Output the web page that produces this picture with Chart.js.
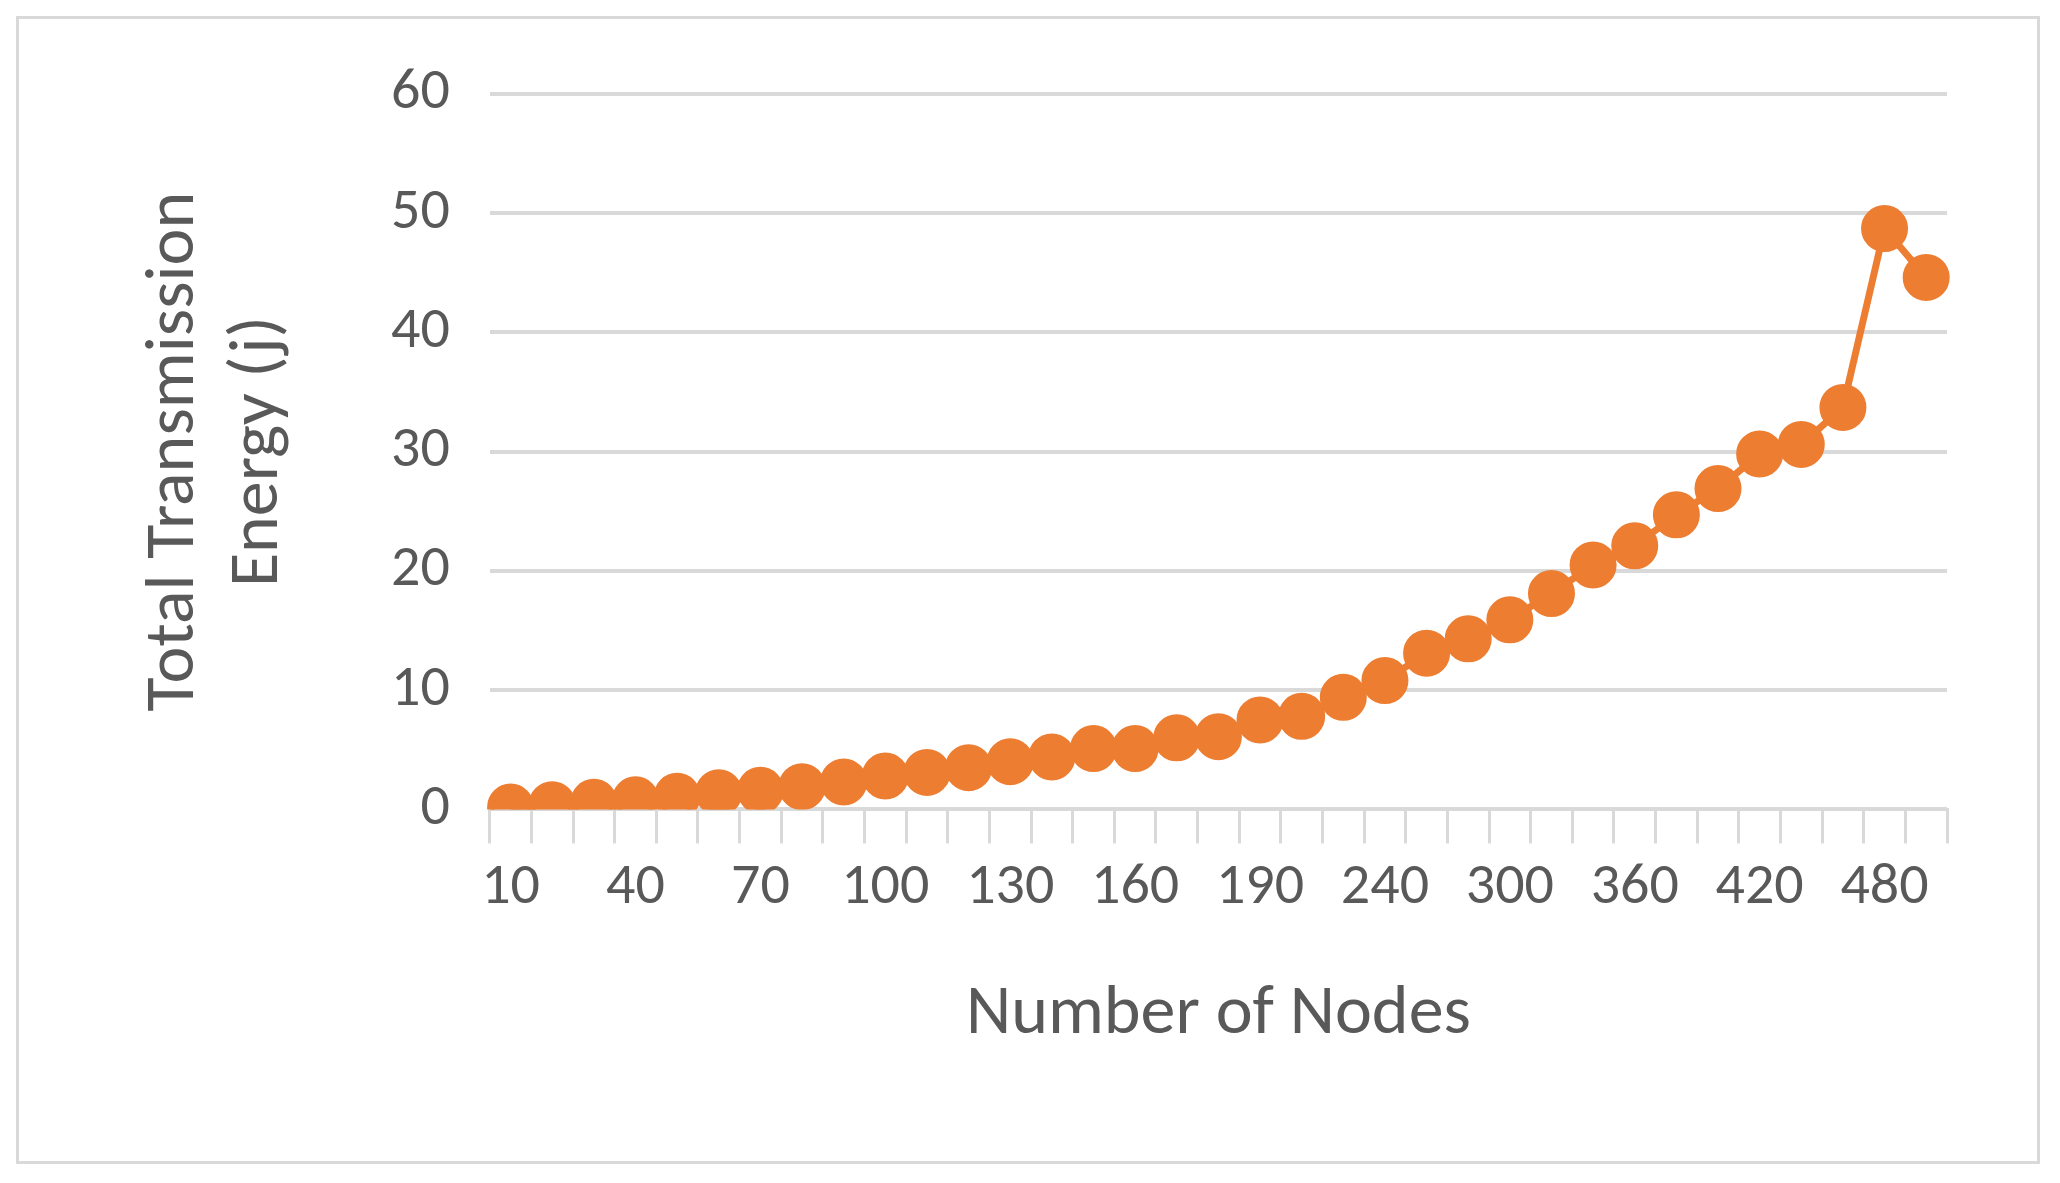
<!DOCTYPE html>
<html><head><meta charset="utf-8">
<script src="https://cdn.jsdelivr.net/npm/chart.js@4"></script>
<style>
html,body{margin:0;padding:0;background:#fff;}
#wrap{position:absolute;left:16px;top:16px;width:2024px;height:1148px;border:3px solid #d9d9d9;box-sizing:border-box;}
canvas{display:block;}
</style></head><body>
<div id="wrap"><canvas id="c"></canvas></div>
<script>
const categories = [10,20,30,40,50,60,70,80,90,100,110,120,130,140,150,160,170,180,190,200,220,240,260,280,300,320,340,360,380,400,420,440,460,480,500];
const energy = [0.2,0.4,0.6,0.8,1.1,1.4,1.6,1.9,2.3,2.8,3.1,3.5,4.0,4.4,5.1,5.1,6.0,6.1,7.5,7.8,9.4,10.8,13.1,14.3,15.9,18.1,20.5,22.1,24.7,26.9,29.8,30.6,33.7,48.7,44.6];
const yTicks = [0,10,20,30,40,50,60];
const color = '#ed7d31';
const font = 'Calibri, Carlito, "Open Sans", sans-serif';
new Chart(document.getElementById('c'), {
  type: 'line',
  data: { labels: categories.map(String), datasets: [{ data: energy, borderColor: color, backgroundColor: color, borderWidth: 7, pointRadius: 20, pointHoverRadius: 20, pointBackgroundColor: color, pointBorderColor: color }] },
  options: {
    responsive: true, maintainAspectRatio: false, animation: false,
    layout: { padding: { left: 110, right: 90, top: 70, bottom: 100 } },
    plugins: { legend: { display: false }, tooltip: { enabled: false } },
    scales: {
      x: {
        offset: true,
        grid: { display: true, drawOnChartArea: false, drawTicks: true, tickLength: 34, color: '#d9d9d9', lineWidth: 3, offset: true },
        border: { color: '#d9d9d9', width: 3 },
        ticks: { autoSkip: false, maxRotation: 0, color: '#595959', font: { size: 58, family: font }, padding: 10,
          callback: function(v, i){ return i % 3 === 0 ? categories[i] : ''; } },
        title: { display: true, text: 'Number of Nodes', color: '#595959', font: { size: 70, family: font }, padding: { top: 40 } }
      },
      y: {
        min: 0, max: 60,
        afterBuildTicks: ax => { ax.ticks = yTicks.map(v => ({ value: v })); },
        grid: { color: '#d9d9d9', lineWidth: 4, drawTicks: false },
        border: { display: false },
        ticks: { color: '#595959', font: { size: 58, family: font }, padding: 40 },
        title: { display: true, text: ['Total Transmission', 'Energy (j)'], color: '#595959', font: { size: 70, family: font }, padding: { bottom: 50 } }
      }
    }
  }
});
</script>
</body></html>
